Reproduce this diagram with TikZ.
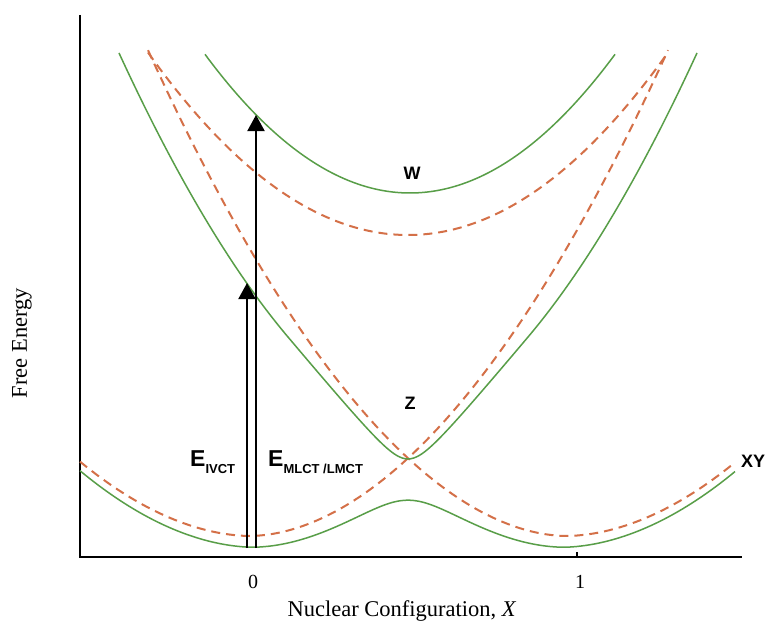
\documentclass[tikz,border=0pt]{standalone}
\usepackage{fontspec}
\setmainfont{Liberation Serif}
\newfontfamily\lsans{Liberation Sans}
\usetikzlibrary{arrows.meta}
\definecolor{gcurve}{RGB}{88,158,72}
\definecolor{dcurve}{RGB}{212,112,72}
\begin{document}
\begin{tikzpicture}[x=1pt,y=-1pt,
  declare function={
    pw(\t)=exp(1.89*ln(abs(\t)+0.01));
    dA(\x)=ifthenelse(\x<250,0.27,0.324)*pw((\x-250)/100);
    dB(\x)=ifthenelse(\x<566,0.324,0.27)*pw((\x-566)/100);
    gl(\x)=(dA(\x)+dB(\x))/2-sqrt(((dA(\x)-dB(\x))/2)^2+0.1225);
    mg(\x)=max(0,abs((\x-408)/100)-1.2);
    gm(\x)=459-120*(sqrt(((\x-408)/100)^2+0.04)-0.2)-28.85*mg(\x)*mg(\x);
  },
  adiab/.style={gcurve, line width=1.5pt, line join=round},
  diab/.style={dcurve, line width=2pt, dash pattern=on 9pt off 6pt},
  axisline/.style={black, line width=2pt},
  trans/.style={black, line width=2pt, -{Triangle[width=17pt,length=16pt]}},
  slabel/.style={font=\lsans\bfseries\fontsize{18}{18}\selectfont, inner sep=0pt},
  serlabel/.style={font=\fontsize{20}{20}\selectfont, inner sep=0pt}]
\useasboundingbox (0,0) rectangle (767,623);
\fill[white] (0,0) rectangle (767,623);

% axes
\coordinate (ytop) at (80,15);
\coordinate (orig) at (80,557);
\coordinate (xend) at (742,557);
\draw[axisline] (ytop) -- (orig) -- (xend);
\coordinate (tickb) at (577,557);
\coordinate (ticke) at (577,552);
\draw[black, line width=1.2pt] (tickb) -- (ticke);

% diabatic curves (dashed)
\draw[diab] plot[domain=80:668, samples=150, smooth] (\x, {536-100*dA(\x)});
\draw[diab] plot[domain=148:735, samples=150, smooth] (\x, {536-100*dB(\x)});
\draw[diab] plot[domain=148:668, samples=100, smooth] (\x, {235-27*((\x-408)/100)^2});

% adiabatic curves (green)
\draw[adiab] plot[domain=205:615, samples=100, smooth] (\x, {193-33*((\x-410)/100)^2});
\draw[adiab] plot[domain=119:697, samples=150, smooth] (\x, {gm(\x)});
\draw[adiab] plot[domain=80:735, samples=150, smooth] (\x, {543-100*gl(\x)});

% transitions
\coordinate (a1s) at (247,548);
\coordinate (a1e) at (247,283);
\coordinate (a2s) at (256,548);
\coordinate (a2e) at (256,115);
\draw[trans] (a1s) -- (a1e);
\draw[trans] (a2s) -- (a2e);

% labels
\node[anchor=base west, inner sep=0pt] (eivct) at (190,466) {\lsans\bfseries\fontsize{23}{23}\selectfont E\raisebox{-7pt}{\fontsize{13}{13}\selectfont IVCT}};
\node[anchor=base west, inner sep=0pt] (emlct) at (268,466) {\lsans\bfseries\fontsize{23}{23}\selectfont E\raisebox{-7pt}{\fontsize{13}{13}\selectfont MLCT /LMCT}};
\node[slabel] (wlab) at (412,173) {W};
\node[slabel] (zlab) at (410,403) {Z};
\node[slabel] (xylab) at (753,461) {XY};
\node[serlabel, anchor=base] (zero) at (253,588) {0};
\node[serlabel, anchor=base] (one) at (580,588) {1};
\node[serlabel, anchor=base, font=\fontsize{22.5}{22.5}\selectfont] (xlab) at (402,616) {Nuclear Configuration, \textit{X}};
\node[serlabel, rotate=90, font=\fontsize{22.5}{22.5}\selectfont] (ylab) at (22,343) {Free Energy};
\end{tikzpicture}
\end{document}
